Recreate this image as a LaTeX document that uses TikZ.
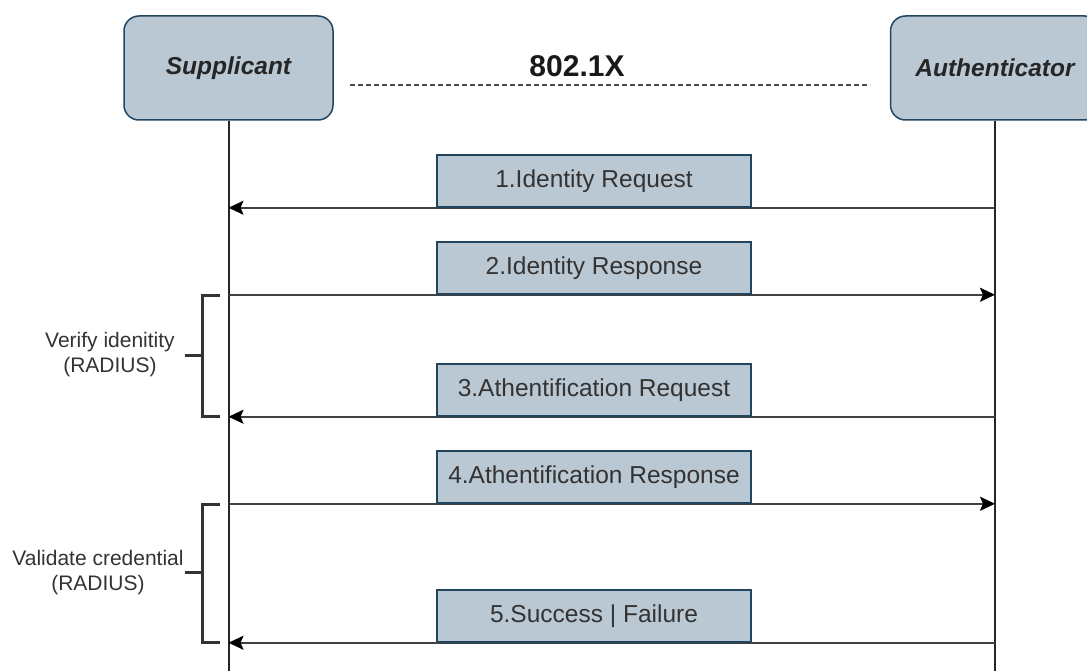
\documentclass[tikz,border=0pt]{standalone}
\usepackage{fontspec}
\setmainfont{Liberation Sans}
\usetikzlibrary{arrows.meta,backgrounds}
\definecolor{boxfill}{HTML}{BAC8D3}
\definecolor{boxline}{HTML}{23445D}
\definecolor{inktext}{HTML}{333333}
\tikzset{
  actor/.style={draw=boxline, line width=1.5pt, fill=boxfill, rounded corners=15pt,
    minimum width=209pt, minimum height=104pt, inner sep=0pt,
    font=\fontsize{24.5}{28}\selectfont\bfseries\itshape, text=black!85},
  msgbox/.style={draw=boxline, line width=1.5pt, fill=boxfill,
    minimum width=314pt, minimum height=52pt, inner sep=0pt,
    font=\fontsize{24.5}{28}\selectfont, text=inktext},
  lifeline/.style={line width=2pt, draw=black!85},
  msg/.style={line width=2pt, draw=black!75,
    -{Stealth[length=15pt, width=14pt, inset=3pt, color=black]}},
  bracket/.style={line width=3pt, draw=black!80},
  note/.style={align=center, font=\fontsize{21}{25}\selectfont, text=inktext, inner sep=0pt},
}
\begin{document}
\begin{tikzpicture}[x=1pt, y=-1pt]
\useasboundingbox (0,0) rectangle (1087,671);

% participants
\node[actor] (supp) at (228.5,68) {Supplicant};
\node[actor] (auth) at (995,68) {Authenticator};

% protocol title and dashed link
\coordinate (linkL) at (350,85);
\coordinate (linkR) at (870,85);
\draw[line width=2pt, draw=black!70, dash pattern=on 5pt off 3pt] (linkL) -- (linkR);
\node[font=\fontsize{30}{34}\selectfont\bfseries, text=black!90, inner sep=0pt] (proto) at (577,66) {802.1X};

% message labels
\node[msgbox] (m1) at (594,181) {1.Identity Request};
\node[msgbox] (m2) at (594,268) {2.Identity Response};
\node[msgbox] (m3) at (594,390) {3.Athentification Request};
\node[msgbox] (m4) at (594,477) {4.Athentification Response};
\node[msgbox] (m5) at (594,616) {5.Success | Failure};

\begin{pgfonlayer}{background}
  % lifelines
  \coordinate (suppEnd) at (228.5,675);
  \coordinate (authEnd) at (995,675);
  \draw[lifeline] (supp.south) -- (suppEnd);
  \draw[lifeline] (auth.south) -- (authEnd);
  % message arrows along the bottom edge of each label
  \draw[msg] (m1.south -| auth.south) -- (m1.south -| supp.south);
  \draw[msg] (m2.south -| supp.south) -- (m2.south -| auth.south);
  \draw[msg] (m3.south -| auth.south) -- (m3.south -| supp.south);
  \draw[msg] (m4.south -| supp.south) -- (m4.south -| auth.south);
  \draw[msg] (m5.south -| auth.south) -- (m5.south -| supp.south);
\end{pgfonlayer}

% RADIUS phases
\coordinate (b1t) at (220,295);
\coordinate (b1b) at (220,416);
\coordinate (b1m) at (185,355);
\draw[bracket] (b1t) -- (202,295) -- (202,416) -- (b1b);
\draw[bracket] (b1m) -- (202,355);
\node[note] (verify) at (110,355) {Verify idenitity\\(RADIUS)};

\coordinate (b2t) at (220,504);
\coordinate (b2b) at (220,642);
\coordinate (b2m) at (185,572);
\draw[bracket] (b2t) -- (202,504) -- (202,642) -- (b2b);
\draw[bracket] (b2m) -- (202,572);
\node[note] (validate) at (98,573) {Validate credential\\(RADIUS)};
\end{tikzpicture}
\end{document}
